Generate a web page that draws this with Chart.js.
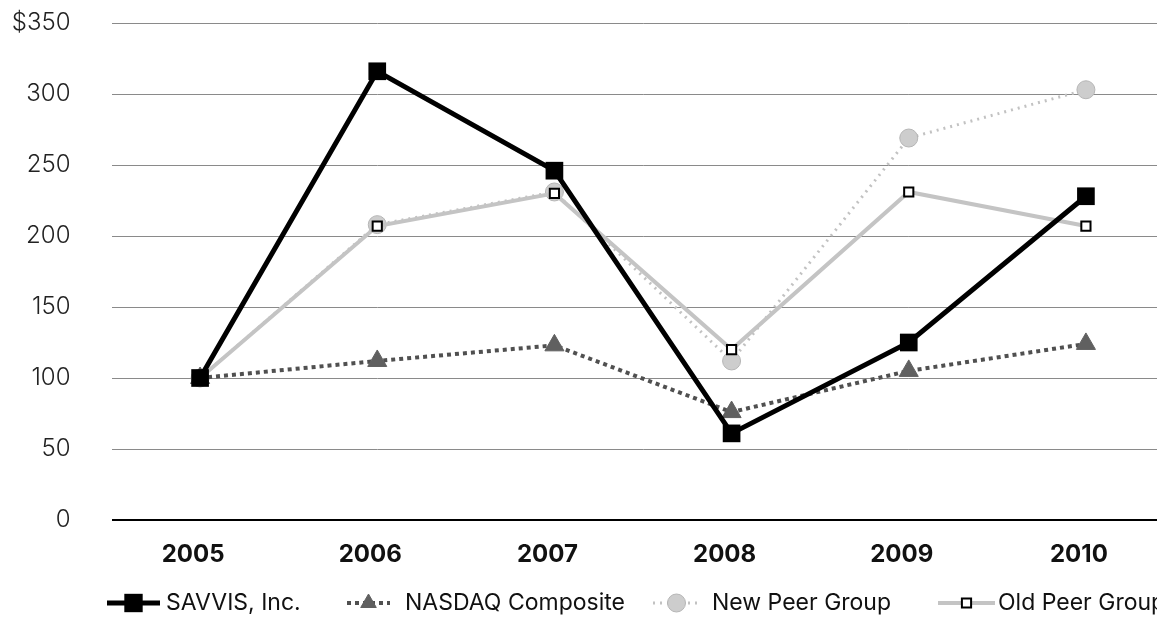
<!DOCTYPE html>
<html>
<head>
<meta charset="utf-8">
<script src="https://cdn.jsdelivr.net/npm/chart.js@4"></script>
<style>
html, body { margin: 0; padding: 0; background: #fff; overflow: hidden; }
#wrap { width: 1187px; height: 630px; }
</style>
</head>
<body>
<div id="wrap"><canvas id="chart" width="1187" height="630"></canvas></div>
<script>
// values
const years = ['2005', '2006', '2007', '2008', '2009', '2010'];
const savvis = [100, 316, 246, 61, 125, 228];
const nasdaq = [100, 112, 123, 76, 105, 124];
const newPeer = [100, 208, 231, 112, 269, 303];
const oldPeer = [100, 207, 230, 120, 231, 207];
const yTicks = [0, 50, 100, 150, 200, 250, 300, 350];

// legend sits in fixed spots like in the print
const legendSpots = [
    { sampleX: 107, sampleW: 53, textX: 166, r: 13 },
    { sampleX: 347, sampleW: 43, textX: 405, r: 9 },
    { sampleX: 653, sampleW: 47, textX: 712, r: 9 },
    { sampleX: 938, sampleW: 57, textX: 998, r: 6.5 }
];
const legendY = 603;

const printLegend = {
    id: 'printLegend',
    afterDraw(chart) {
        const ctx = chart.ctx;
        chart.data.datasets.forEach((ds, i) => {
            const spot = legendSpots[i];
            ctx.save();
            ctx.strokeStyle = ds.borderColor;
            ctx.lineWidth = ds.borderWidth;
            ctx.setLineDash(ds.borderDash || []);
            ctx.beginPath();
            ctx.moveTo(spot.sampleX, legendY);
            ctx.lineTo(spot.sampleX + spot.sampleW, legendY);
            ctx.stroke();
            ctx.setLineDash([]);
            ctx.fillStyle = ds.pointBackgroundColor;
            ctx.strokeStyle = ds.pointBorderColor;
            ctx.lineWidth = ds.pointBorderWidth;
            Chart.helpers.drawPoint(ctx, {
                pointStyle: ds.pointStyle,
                radius: spot.r,
                borderWidth: ds.pointBorderWidth,
                rotation: 0
            }, spot.sampleX + spot.sampleW / 2, legendY);
            ctx.fillStyle = '#111';
            ctx.font = '400 23px Inter';
            ctx.textBaseline = 'middle';
            ctx.textAlign = 'left';
            ctx.fillText(ds.label, spot.textX, legendY);
            ctx.restore();
        });
    }
};

new Chart(document.getElementById('chart'), {
    type: 'line',
    data: {
        labels: years,
        datasets: [{
            label: 'SAVVIS, Inc.',
            data: savvis,
            borderColor: '#000',
            borderWidth: 5,
            pointStyle: 'rect',
            pointRadius: 12.5,
            pointHoverRadius: 12.5,
            pointBackgroundColor: '#000',
            pointBorderColor: '#000',
            pointBorderWidth: 0,
            order: 0
        }, {
            label: 'NASDAQ Composite',
            data: nasdaq,
            borderColor: '#505050',
            borderWidth: 4,
            borderDash: [4, 4],
            pointStyle: 'triangle',
            pointRadius: 11,
            pointHoverRadius: 11,
            pointBackgroundColor: '#606060',
            pointBorderColor: '#606060',
            pointBorderWidth: 1,
            order: 1
        }, {
            label: 'New Peer Group',
            data: newPeer,
            borderColor: '#c2c2c2',
            borderWidth: 3,
            borderDash: [2, 5],
            pointStyle: 'circle',
            pointRadius: 9,
            pointHoverRadius: 9,
            pointBackgroundColor: '#cdcdcd',
            pointBorderColor: '#b5b5b5',
            pointBorderWidth: 1,
            order: 3
        }, {
            label: 'Old Peer Group',
            data: oldPeer,
            borderColor: '#c4c4c4',
            borderWidth: 4,
            pointStyle: 'rect',
            pointRadius: 6.5,
            pointHoverRadius: 6.5,
            pointBackgroundColor: '#fff',
            pointBorderColor: '#000',
            pointBorderWidth: 2,
            order: 2
        }]
    },
    options: {
        responsive: false,
        devicePixelRatio: 1,
        animation: false,
        layout: { padding: { top: 23, right: 0, bottom: 0, left: 0 } },
        plugins: {
            legend: { display: false },
            tooltip: { enabled: false }
        },
        scales: {
            x: {
                offset: true,
                grid: { display: false },
                border: { display: false },
                ticks: {
                    color: '#111',
                    font: { family: 'Inter', size: 24, weight: '700' },
                    padding: 12,
                    labelOffset: -7,
                    maxRotation: 0
                },
                afterFit: s => { s.height = 110; }
            },
            y: {
                min: 0,
                max: 350,
                afterBuildTicks: s => { s.ticks = yTicks.map(v => ({ value: v })); },
                border: { display: false },
                grid: {
                    drawTicks: true,
                    tickLength: 41,
                    tickColor: 'rgba(0,0,0,0)',
                    color: c => c.tick && c.tick.value === 0 ? '#000' : '#8a8a8a',
                    lineWidth: c => c.tick && c.tick.value === 0 ? 2 : 1
                },
                ticks: {
                    color: '#222',
                    font: { family: 'Inter', size: 24, weight: '300' },
                    padding: 0,
                    callback: v => v === 350 ? '$350' : String(v)
                },
                afterFit: s => { s.width = 111.5; }
            }
        }
    },
    plugins: [printLegend]
});
</script>
</body>
</html>
